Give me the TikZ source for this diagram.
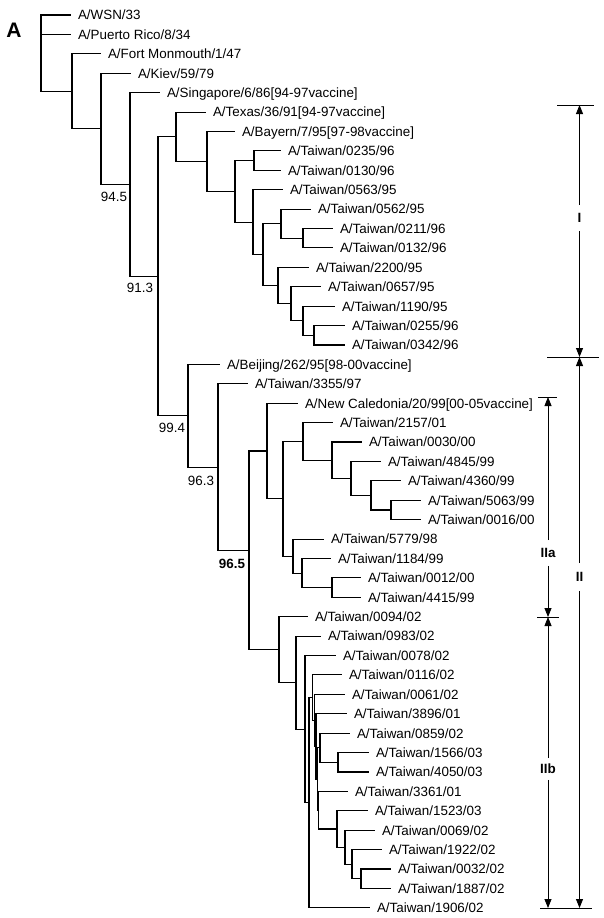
\documentclass[tikz,border=0pt]{standalone}
\usepackage{fontspec}
\setmainfont{Liberation Sans}
\usetikzlibrary{arrows.meta}
\begin{document}
\begin{tikzpicture}[x=1pt,y=-1pt,
  every node/.style={font=\fontsize{13.4}{16}\selectfont},
  leaf/.style={anchor=west,inner xsep=7pt,inner ysep=0pt,outer sep=0pt,text height=9.6pt,text depth=0pt},
  boot/.style={inner sep=0pt,text height=9.6pt,text depth=0pt},
  branch/.style={line width=1.1pt,line join=miter},
  clab/.style={font=\fontsize{13.4}{16}\selectfont\bfseries,inner xsep=0pt,inner ysep=8pt,outer sep=0pt,text height=9.6pt,text depth=0pt},
  brk/.style={line width=0.8pt,-{Triangle[length=9pt,width=7pt]}},
  tick/.style={line width=0.8pt}]

% canvas
\path[fill=white,use as bounding box] (0,0) rectangle (604,918);

% panel letter
\node[font=\fontsize{21}{24}\selectfont\bfseries,inner sep=0pt] (panel) at (14,30) {A};

% strains
\node[leaf] (l1)  at (71,15.0)   {A/WSN/33};
\node[leaf] (l2)  at (71,34.4)   {A/Puerto Rico/8/34};
\node[leaf] (l3)  at (101,53.8)  {A/Fort Monmouth/1/47};
\node[leaf] (l4)  at (131,73.2)  {A/Kiev/59/79};
\node[leaf] (l5)  at (160,92.6)  {A/Singapore/6/86[94-97vaccine]};
\node[leaf] (l6)  at (206,112.1) {A/Texas/36/91[94-97vaccine]};
\node[leaf] (l7)  at (235,131.5) {A/Bayern/7/95[97-98vaccine]};
\node[leaf] (l8)  at (281,150.9) {A/Taiwan/0235/96};
\node[leaf] (l9)  at (281,170.3) {A/Taiwan/0130/96};
\node[leaf] (l10) at (283,189.7) {A/Taiwan/0563/95};
\node[leaf] (l11) at (311,209.1) {A/Taiwan/0562/95};
\node[leaf] (l12) at (333,228.5) {A/Taiwan/0211/96};
\node[leaf] (l13) at (333,247.9) {A/Taiwan/0132/96};
\node[leaf] (l14) at (309,267.3) {A/Taiwan/2200/95};
\node[leaf] (l15) at (321,286.7) {A/Taiwan/0657/95};
\node[leaf] (l16) at (335,306.2) {A/Taiwan/1190/95};
\node[leaf] (l17) at (345,325.6) {A/Taiwan/0255/96};
\node[leaf] (l18) at (345,345.0) {A/Taiwan/0342/96};
\node[leaf] (l19) at (220,364.4) {A/Beijing/262/95[98-00vaccine]};
\node[leaf] (l20) at (248,383.8) {A/Taiwan/3355/97};
\node[leaf] (l21) at (298,403.2) {A/New Caledonia/20/99[00-05vaccine]};
\node[leaf] (l22) at (333,422.6) {A/Taiwan/2157/01};
\node[leaf] (l23) at (362,442.0) {A/Taiwan/0030/00};
\node[leaf] (l24) at (381,461.4) {A/Taiwan/4845/99};
\node[leaf] (l25) at (401,480.8) {A/Taiwan/4360/99};
\node[leaf] (l26) at (421,500.3) {A/Taiwan/5063/99};
\node[leaf] (l27) at (421,519.7) {A/Taiwan/0016/00};
\node[leaf] (l28) at (324,539.1) {A/Taiwan/5779/98};
\node[leaf] (l29) at (331,558.5) {A/Taiwan/1184/99};
\node[leaf] (l30) at (361,577.9) {A/Taiwan/0012/00};
\node[leaf] (l31) at (361,597.3) {A/Taiwan/4415/99};
\node[leaf] (l32) at (308,616.7) {A/Taiwan/0094/02};
\node[leaf] (l33) at (321,636.1) {A/Taiwan/0983/02};
\node[leaf] (l34) at (336,655.5) {A/Taiwan/0078/02};
\node[leaf] (l35) at (342,674.9) {A/Taiwan/0116/02};
\node[leaf] (l36) at (345,694.4) {A/Taiwan/0061/02};
\node[leaf] (l37) at (347,713.8) {A/Taiwan/3896/01};
\node[leaf] (l38) at (350,733.2) {A/Taiwan/0859/02};
\node[leaf] (l39) at (369,752.6) {A/Taiwan/1566/03};
\node[leaf] (l40) at (369,772.0) {A/Taiwan/4050/03};
\node[leaf] (l41) at (348,791.4) {A/Taiwan/3361/01};
\node[leaf] (l42) at (368,810.8) {A/Taiwan/1523/03};
\node[leaf] (l43) at (375,830.2) {A/Taiwan/0069/02};
\node[leaf] (l44) at (382,849.6) {A/Taiwan/1922/02};
\node[leaf] (l45) at (391,869.0) {A/Taiwan/0032/02};
\node[leaf] (l46) at (391,888.5) {A/Taiwan/1887/02};
\node[leaf] (l47) at (370,907.9) {A/Taiwan/1906/02};

% internal nodes of the tree
\coordinate (root) at (41,53);
\coordinate (n72)  at (72,91.3);
\coordinate (n101) at (101,128.8);
\coordinate (n130) at (130,184.5);
\coordinate (n158) at (158,276.3);
\coordinate (n176) at (176,136.8);
\coordinate (n207) at (207,161.4);
\coordinate (n235) at (235,191.4);
\coordinate (n254) at (254,160.6);
\coordinate (n253) at (253,222.1);
\coordinate (n263) at (263,254.6);
\coordinate (n281) at (281,223.65);
\coordinate (n303a) at (303,238.2);
\coordinate (n278) at (278,285.5);
\coordinate (n291) at (291,303.7);
\coordinate (n303b) at (303,320.75);
\coordinate (n314) at (314,335.3);
\coordinate (n188) at (188,415.7);
\coordinate (n218) at (218,467.1);
\coordinate (n249) at (249,550.3);
\coordinate (n267) at (267,451.0);
\coordinate (n283) at (283,498.75);
\coordinate (n303c) at (303,441.4);
\coordinate (n332) at (332,460.2);
\coordinate (n351) at (351,478.4);
\coordinate (n371) at (371,495.4);
\coordinate (n391) at (391,510.0);
\coordinate (n293) at (293,556.1);
\coordinate (n302) at (302,573.05);
\coordinate (n332b) at (332,587.6);
\coordinate (n279) at (279,649.7);
\coordinate (nB) at (296,682.6);
\coordinate (nC) at (305,729.2);
\coordinate (nD) at (309,802.8);
\coordinate (nE) at (312.5,697.65);
\coordinate (nF) at (314.5,720.4);
\coordinate (nG) at (316,746.4);
\coordinate (nH) at (317.5,779.0);
\coordinate (nI) at (320,747.75);
\coordinate (nK) at (338,762.3);
\coordinate (nJ) at (318.5,810.2);
\coordinate (nL) at (337,829.0);
\coordinate (nM) at (345,847.2);
\coordinate (nN) at (352,864.2);
\coordinate (nO) at (361,878.75);

% branches: parent / child
\foreach \p/\c in {root/l1.west, root/l2.west, root/n72,
  n72/l3.west, n72/n101, n101/l4.west, n101/n130,
  n130/l5.west, n130/n158, n158/n176, n158/n188,
  n176/l6.west, n176/n207, n207/l7.west, n207/n235,
  n235/n254, n235/n253, n254/l8.west, n254/l9.west,
  n253/l10.west, n253/n263, n263/n281, n263/n278,
  n281/l11.west, n281/n303a, n303a/l12.west, n303a/l13.west,
  n278/l14.west, n278/n291, n291/l15.west, n291/n303b,
  n303b/l16.west, n303b/n314, n314/l17.west, n314/l18.west,
  n188/l19.west, n188/n218, n218/l20.west, n218/n249,
  n249/n267, n249/n279, n267/l21.west, n267/n283,
  n283/n303c, n283/n293, n303c/l22.west, n303c/n332,
  n332/l23.west, n332/n351, n351/l24.west, n351/n371,
  n371/l25.west, n371/n391, n391/l26.west, n391/l27.west,
  n293/l28.west, n293/n302, n302/l29.west, n302/n332b,
  n332b/l30.west, n332b/l31.west,
  n279/l32.west, n279/nB, nB/l33.west, nB/nC,
  nC/l34.west, nC/nD, nD/nE, nD/l47.west,
  nE/l35.west, nE/nF, nF/l36.west, nF/nG,
  nG/l37.west, nG/nH, nH/nI, nH/nJ,
  nI/l38.west, nI/nK, nK/l39.west, nK/l40.west,
  nJ/l41.west, nJ/nL, nL/l42.west, nL/nM,
  nM/l43.west, nM/nN, nN/l44.west, nN/nO,
  nO/l45.west, nO/l46.west}
  \draw[branch] (\p) |- (\c);

% bootstrap support
\node[boot] (b945) at (114,197) {94.5};
\node[boot] (b913) at (140,288) {91.3};
\node[boot] (b994) at (172,428) {99.4};
\node[boot] (b963) at (201,481) {96.3};
\node[boot,font=\fontsize{13.4}{16}\selectfont\bfseries] (b965) at (232,564) {96.5};

% clade brackets
\coordinate (tIa) at (557,105);   \coordinate (tIb) at (594,105);
\coordinate (tMa) at (547,357);   \coordinate (tMb) at (599,357);
\coordinate (tAa) at (538,397);   \coordinate (tAb) at (557,397);
\coordinate (tBa) at (537,617);   \coordinate (tBb) at (559,617);
\coordinate (tZa) at (540,908);   \coordinate (tZb) at (592,908);
\draw[tick] (tIa) -- (tIb);
\draw[tick] (tMa) -- (tMb);
\draw[tick] (tAa) -- (tAb);
\draw[tick] (tBa) -- (tBb);
\draw[tick] (tZa) -- (tZb);

\coordinate (Itop) at (579.5,105);  \coordinate (Ibot) at (579.5,357);
\coordinate (IItop) at (579.5,357); \coordinate (IIbot) at (579.5,908);
\coordinate (IIatop) at (548,397);  \coordinate (IIabot) at (548,617);
\coordinate (IIbtop) at (548,617);  \coordinate (IIbbot) at (548,908);

\node[clab] (cI) at (579.5,218) {I};
\node[clab,inner ysep=9pt] (cII) at (579.5,577) {II};
\node[clab] (cIIa) at (548,553) {IIa};
\node[clab,inner ysep=6pt] (cIIb) at (548,769) {IIb};

\draw[brk] (cI) -- (Itop);
\draw[brk] (cI) -- (Ibot);
\draw[brk] (cII) -- (IItop);
\draw[brk] (cII) -- (IIbot);
\draw[brk] (cIIa) -- (IIatop);
\draw[brk] (cIIa) -- (IIabot);
\draw[brk] (cIIb) -- (IIbtop);
\draw[brk] (cIIb) -- (IIbbot);
\end{tikzpicture}
\end{document}
